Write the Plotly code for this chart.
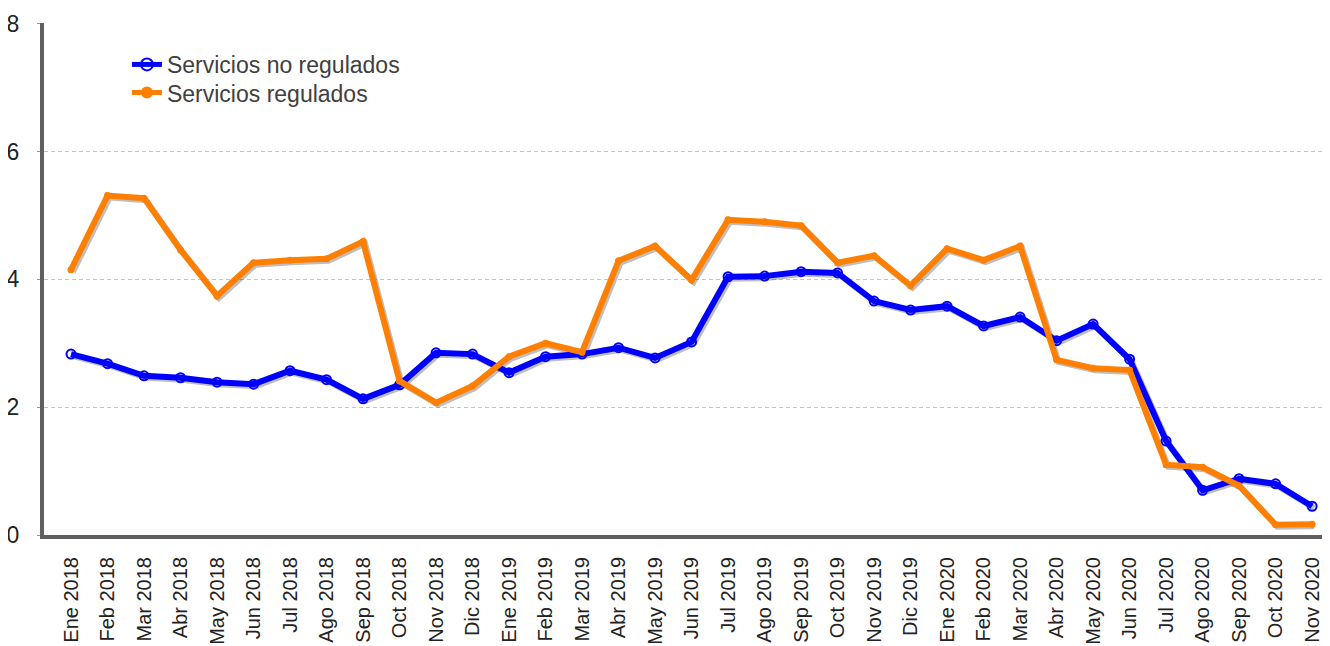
import plotly.graph_objects as go

# months on the category axis
meses = ["Ene 2018", "Feb 2018", "Mar 2018", "Abr 2018", "May 2018", "Jun 2018",
         "Jul 2018", "Ago 2018", "Sep 2018", "Oct 2018", "Nov 2018", "Dic 2018",
         "Ene 2019", "Feb 2019", "Mar 2019", "Abr 2019", "May 2019", "Jun 2019",
         "Jul 2019", "Ago 2019", "Sep 2019", "Oct 2019", "Nov 2019", "Dic 2019",
         "Ene 2020", "Feb 2020", "Mar 2020", "Abr 2020", "May 2020", "Jun 2020",
         "Jul 2020", "Ago 2020", "Sep 2020", "Oct 2020", "Nov 2020"]

no_regulados = [2.83, 2.68, 2.49, 2.46, 2.39, 2.36, 2.57, 2.43, 2.13, 2.35, 2.85, 2.83,
                2.54, 2.79, 2.83, 2.93, 2.77, 3.02, 4.04, 4.05, 4.12, 4.10, 3.66, 3.52,
                3.58, 3.27, 3.41, 3.04, 3.30, 2.75, 1.47, 0.70, 0.88, 0.80, 0.45]

regulados = [4.15, 5.31, 5.27, 4.46, 3.74, 4.26, 4.30, 4.32, 4.59, 2.41, 2.07, 2.33,
             2.79, 3.00, 2.86, 4.29, 4.52, 3.99, 4.93, 4.90, 4.84, 4.26, 4.37, 3.90,
             4.48, 4.30, 4.52, 2.74, 2.61, 2.58, 1.10, 1.06, 0.77, 0.16, 0.17]

y_ticks = [0, 2, 4, 6, 8]

FONT = "Arial, Liberation Sans, sans-serif"
AZUL = "#0000FF"
NARANJA = "#FF7F00"

xr = [-0.74, 34.49]
yr = [0, 8.01]
# shadow axes: same scale, shifted ~2px right/down
dx = (xr[1] - xr[0]) / 1286 * 2
dy = (yr[1] - yr[0]) / 512 * 2

fig = go.Figure()

# drop shadows (base axes, hidden)
for serie in (no_regulados, regulados):
    fig.add_trace(go.Scatter(x=meses, y=serie, mode="lines", xaxis="x", yaxis="y",
                             line=dict(color="rgba(0,0,0,0.25)", width=6),
                             showlegend=False, hoverinfo="skip"))

# real series on the visible overlay axes
fig.add_trace(go.Scatter(
    x=meses, y=no_regulados, name="Servicios no regulados", mode="lines+markers",
    xaxis="x2", yaxis="y2", legend="legend",
    line=dict(color=AZUL, width=6),
    marker=dict(symbol="circle-open", size=9, color=AZUL, line=dict(width=2))))
fig.add_trace(go.Scatter(
    x=meses, y=regulados, name="Servicios regulados", mode="lines+markers",
    xaxis="x2", yaxis="y2", legend="legend2",
    line=dict(color=NARANJA, width=6),
    marker=dict(symbol="circle", size=7, color=NARANJA)))

leg = dict(xanchor="left", yanchor="top", bgcolor="rgba(0,0,0,0)",
           font=dict(size=23, color="#404040"), itemsizing="constant")

# page body has an 8px margin, so the figure is 8px smaller than the window
fig.update_layout(
    width=1322, height=638,
    margin=dict(l=36, r=0, t=15, b=111),
    plot_bgcolor="white", paper_bgcolor="white",
    font=dict(family=FONT, size=23, color="#404040"),
    showlegend=True,
    legend=dict(x=0.0645, y=0.961, **leg),
    legend2=dict(x=0.0645, y=0.906, **leg),
    xaxis=dict(type="category", range=[xr[0] - dx, xr[1] - dx], visible=False,
               automargin=False),
    yaxis=dict(range=[yr[0] + dy, yr[1] + dy], visible=False, automargin=False),
    xaxis2=dict(type="category", range=xr, overlaying="x", anchor="y2", side="bottom",
                showgrid=False, zeroline=False, automargin=False,
                showline=True, linecolor="#606060", linewidth=4,
                tickangle=-90, tickfont=dict(size=20, color="#222222"),
                ticks="", ticklabelstandoff=10),
    yaxis2=dict(range=yr, tickvals=y_ticks, overlaying="y", anchor="x2", side="left",
                showgrid=True, gridcolor="#C4C4C4", griddash="4px,3px", gridwidth=1,
                zeroline=False, automargin=False,
                showline=True, linecolor="#606060", linewidth=4,
                tickfont=dict(size=23, color="#222222"),
                ticks="outside", ticklen=3, tickcolor="#909090", tickwidth=1,
                ticklabelstandoff=13),
)

fig.write_html("out.html")
